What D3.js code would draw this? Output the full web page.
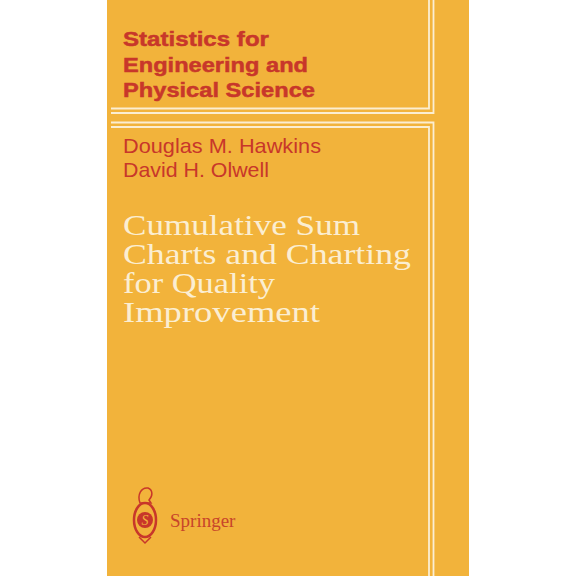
<!DOCTYPE html>
<html><head><meta charset="utf-8">
<script src="https://cdn.jsdelivr.net/npm/d3@7"></script>
<style>body{margin:0;background:#fff}</style>
</head><body><svg id="cover" width="576" height="576"></svg>
<script>
// cover texts
var seriesLines = ["Statistics for", "Engineering and", "Physical Science"];
var seriesWidths = [146, 185, 192];
var authorLines = ["Douglas M. Hawkins", "David H. Olwell"];
var authorWidths = [198, 146];
var titleLines = ["Cumulative Sum", "Charts and Charting", "for Quality", "Improvement"];
var titleWidths = [237, 288, 152, 197];
var publisher = "Springer";

var svg = d3.select('#cover');
var red = '#c8372a', cream = '#fbeed2';

svg.append('rect').attr('x', 107).attr('y', 0).attr('width', 362).attr('height', 576).attr('fill', '#f2b33b');

// white frame lines
var lines = svg.append('g').attr('fill', 'none').attr('stroke', cream).attr('stroke-width', 1.8);
lines.append('path').attr('d', 'M111,108.5H429V0');
lines.append('path').attr('d', 'M111,113H433.5V0');
lines.append('path').attr('d', 'M111,122.5H433.5V576');
lines.append('path').attr('d', 'M111,127H429V576');

function width(arr) { return function (d, i) { return arr[i]; }; }

svg.selectAll('.series').data(seriesLines).enter().append('text')
	.attr('x', 123).attr('y', function (d, i) { return 46 + i * 25.5; })
	.attr('font-family', 'Liberation Sans, Arial').attr('font-weight', 'bold')
	.attr('font-size', 21).attr('fill', red).attr('stroke', red).attr('stroke-width', 0.5)
	.attr('textLength', width(seriesWidths)).attr('lengthAdjust', 'spacingAndGlyphs')
	.text(function (d) { return d; });

svg.selectAll('.author').data(authorLines).enter().append('text')
	.attr('x', 123).attr('y', function (d, i) { return 153 + i * 24; })
	.attr('font-family', 'Liberation Sans, Arial')
	.attr('font-size', 21).attr('fill', red)
	.attr('textLength', width(authorWidths)).attr('lengthAdjust', 'spacingAndGlyphs')
	.text(function (d) { return d; });

svg.selectAll('.title').data(titleLines).enter().append('text')
	.attr('x', 123).attr('y', function (d, i) { return 235 + i * 29; })
	.attr('font-family', 'Liberation Serif, serif')
	.attr('font-size', 29).attr('fill', cream)
	.attr('textLength', width(titleWidths)).attr('lengthAdjust', 'spacingAndGlyphs')
	.text(function (d) { return d; });

// springer logo
var logo = svg.append('g').attr('transform', 'translate(145,520)');
logo.append('ellipse').attr('rx', 11).attr('ry', 17).attr('fill', 'none').attr('stroke', red).attr('stroke-width', 2.5);
logo.append('circle').attr('r', 8).attr('fill', red);
logo.append('text').attr('y', 5).attr('text-anchor', 'middle').attr('font-family', 'Liberation Serif')
	.attr('font-size', 14).attr('font-style', 'italic').attr('fill', '#f2b33b').text('S');
logo.append('path').attr('d', 'M-5,-17 C-8,-25 -4,-33 3,-32 C8,-30 8,-24 4,-20 L6,-17 Z').attr('fill', 'none').attr('stroke', red).attr('stroke-width', 1.5);
logo.append('path').attr('d', 'M-6,17 L0,23 L6,17').attr('fill', 'none').attr('stroke', red).attr('stroke-width', 1.5);

svg.append('text').attr('x', 170).attr('y', 527).attr('font-family', 'Liberation Serif, serif')
	.attr('font-size', 19).attr('fill', '#c8452a').text(publisher);
</script></body></html>
